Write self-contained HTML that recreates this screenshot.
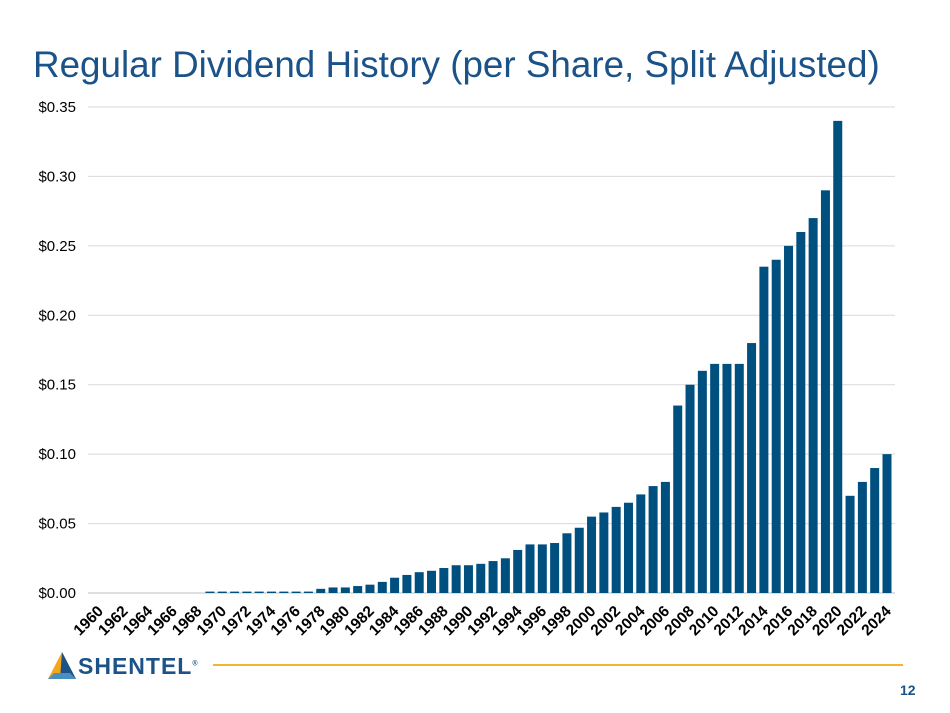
<!DOCTYPE html>
<html><head><meta charset="utf-8"><style>
body{margin:0;background:#fff;font-family:"Liberation Sans",sans-serif}
#wrap{position:relative;width:950px;height:713px;overflow:hidden}
</style></head><body>
<div id="wrap">
<div style="position:absolute;left:33px;top:44px;font-size:36.8px;color:#1b5288;white-space:nowrap">Regular Dividend History (per Share, Split Adjusted)</div>
<svg id="chart" width="950" height="713" style="position:absolute;left:0;top:0"></svg>
<div style="position:absolute;left:46px;top:651px;width:170px;height:32px">
<svg width="32" height="30" style="position:absolute;left:0;top:0"><polygon points="16,1 30,28 2,28" fill="#f3a81c"/><polygon points="16,1 30,28 14,28" fill="#1b5288"/><polygon points="2,28 30,28 24,22 8,22" fill="#4a8ec2"/></svg>
<div style="position:absolute;left:32px;top:2px;font-size:23px;font-weight:bold;color:#1b5288;letter-spacing:1px">SHENTEL<sup style="font-size:7px">®</sup></div>
</div>
<div style="position:absolute;left:213px;top:664px;width:690px;height:2px;background:#f3b52c"></div>
<div style="position:absolute;left:900px;top:682px;font-size:14px;font-weight:bold;color:#1b5288">12</div>
</div>
<script>
const years=[];for(let y=1960;y<=2024;y++)years.push(y);
const values=[0,0,0,0,0,0,0,0,0,0.001,0.001,0.001,0.001,0.001,0.001,0.001,0.001,0.001,0.003,0.004,0.004,0.005,0.006,0.008,0.011,0.013,0.015,0.016,0.018,0.020,0.020,0.021,0.023,0.025,0.031,0.035,0.035,0.036,0.043,0.047,0.055,0.058,0.062,0.065,0.071,0.077,0.080,0.135,0.150,0.160,0.165,0.165,0.165,0.180,0.235,0.240,0.250,0.260,0.270,0.290,0.340,0.070,0.080,0.090,0.100];
const yTicks=[0,0.05,0.10,0.15,0.20,0.25,0.30,0.35];
const NS="http://www.w3.org/2000/svg",svg=document.getElementById('chart');
const x0=93,step=12.31,yB=593,yT=107,yMax=0.35;
const X=i=>x0+i*step+step/2,Y=v=>yB-(v/yMax)*(yB-yT);
function mk(t,a){const e=document.createElementNS(NS,t);for(const k in a)e.setAttribute(k,a[k]);svg.appendChild(e);return e;}
yTicks.forEach(v=>{
 const l=mk('line',{x1:88,x2:895,y1:Y(v),y2:Y(v),stroke:v===0?'#bfbfbf':'#d9d9d9','stroke-width':1});
 
 
 const t=mk('text',{x:76,y:Y(v)+5,'text-anchor':'end','font-size':15,fill:'#000','font-family':'Liberation Sans'});
 t.textContent='$'+v.toFixed(2);
 
 
});
values.forEach((v,i)=>{
 if(v<=0)return;
 const r=mk('rect',{x:X(i)-4.5,y:Y(v),width:9,height:yB-Y(v),fill:'#00507f'});
 
 
});
years.forEach((yr,i)=>{
 if(yr%2)return;
 const cx=X(i)+5,cy=612;
 const t=mk('text',{x:cx,y:cy,'text-anchor':'end','font-size':15.5,'font-weight':'bold',fill:'#000','font-family':'Liberation Sans',transform:`rotate(-45 ${cx} ${cy})`});
 t.textContent=yr;
 
 
});
</script>
</body></html>
